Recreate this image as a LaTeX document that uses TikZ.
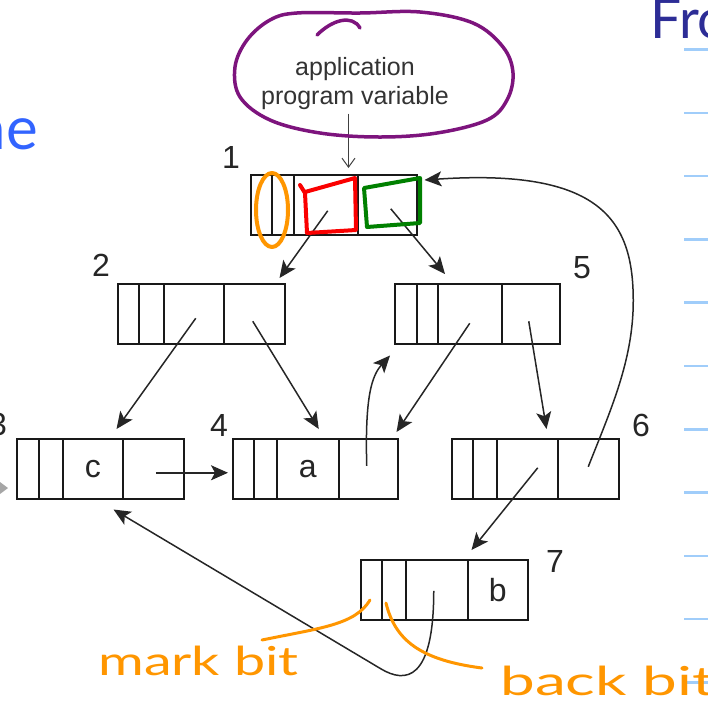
\documentclass[tikz,border=0pt]{standalone}
\usepackage{fontspec}
\setmainfont{Liberation Sans}
\newfontfamily\hand{Lato}
\usetikzlibrary{arrows.meta,calc}
\definecolor{purp}{RGB}{125,20,125}
\definecolor{orng}{RGB}{255,150,0}
\definecolor{redhw}{RGB}{250,0,0}
\definecolor{grn}{RGB}{0,128,0}
\definecolor{bluehw}{RGB}{50,100,255}
\definecolor{navyhw}{RGB}{45,45,150}
\definecolor{rulecol}{RGB}{160,205,250}
\newcommand\rec[9]{%
  \node[cell, minimum width={#3-#2}] (#1a) at (#2,#7) {};
  \node[cell, minimum width={#4-#3}] (#1b) at (#3,#7) {};
  \node[cell, minimum width={#5-#4}] (#1c) at (#4,#7) {#8};
  \node[cell, minimum width={#6-#5}] (#1d) at (#5,#7) {#9};
}
\begin{document}
\begin{tikzpicture}[x=1pt,y=-1pt,
  cell/.style={draw=black!90, line width=1.5pt, minimum height=60pt, inner sep=0pt,
    anchor=north west, text=black!85, font=\fontsize{32}{32}\selectfont},
  ptr/.style={draw=black!85, line width=1.5pt, -{Stealth[length=17pt,width=15pt,inset=4pt]}},
  barb/.style={draw=black!75, line width=1pt, -{Straight Barb[length=9pt,width=13pt]}},
  num/.style={font=\fontsize{32}{32}\selectfont, text=black!85, inner sep=0pt},
  hw/.style={line width=4pt, line cap=round, line join=round},
  hwtext/.style={font=\hand\fontsize{40}{40}\selectfont, inner sep=0pt, anchor=base west},
]
\useasboundingbox (0,0) rectangle (708,702);
\clip (0,0) rectangle (708,702);

% ruled lines at right
\foreach \k in {0,...,10}
  \draw[rulecol, line width=2.5pt] (684,{49.5+63.3*\k}) -- (708,{49.5+63.3*\k});

% records
\rec{n1}{250}{271}{293}{357}{416}{174}{}{}
\rec{n2}{117}{138}{163}{223}{284}{283}{}{}
\rec{n3}{16}{38}{62}{122}{183}{438}{c}{}
\rec{n4}{232}{253}{276}{338}{397}{438}{a}{}
\rec{n5}{394}{416}{437}{501}{559}{283}{}{}
\rec{n6}{451}{472}{496}{557}{618}{438}{}{}
\rec{n7}{360}{381}{405}{467}{527}{559}{}{b}

% record numbers
\node[num] (l1) at (231,157) {1};
\node[num] (l2) at (101,265) {2};
\node[num] (l3) at (-2,424) {3};
\node[num] (l4) at (219,425) {4};
\node[num] (l5) at (582,268) {5};
\node[num] (l6) at (641,425) {6};
\node[num] (l7) at (555,561) {7};

% application program variable
\node[font=\fontsize{25}{29}\selectfont, align=center, text=black!80] (bub) at (355,84)
  {application\\program variable};
\draw[barb] ($(bub.south -| n1c.north east)+(-10,0)$) -- ($(n1c.north east)+(-10,-6)$);

% pointer coordinates
\coordinate (s1) at ($(n1c.center)+(2,6)$);    \coordinate (t1) at ($(n2d.north east)+(-6,-5)$);
\coordinate (s2) at ($(n1d.center)+(3.5,4)$);  \coordinate (t2) at ($(n5c.north west)+(8,-9)$);
\coordinate (s3) at ($(n2c.center)+(2,4.5)$);  \coordinate (t3) at ($(n3c.north east)+(-7,-9)$);
\coordinate (s4) at ($(n2d.center)+(-1.5,7.5)$); \coordinate (t4) at ($(n4c.north)+(11,-9)$);
\coordinate (s5) at ($(n3d.center)+(2.5,4)$);  \coordinate (t5) at ($(n4a.west)+(-4,4)$);
\coordinate (s6) at ($(n4d.center)+(-1.5,-3)$); \coordinate (t6) at ($(n5a.south west)+(-4,11)$);
\coordinate (s7) at ($(n5c.center)+(0,9.5)$);  \coordinate (t7) at ($(n4d.north east)+(-2,-6)$);
\coordinate (s8) at ($(n5d.center)+(-2,7.5)$); \coordinate (t8) at ($(n6c.north east)+(-12,-9)$);
\coordinate (s9) at ($(n6d.center)+(0,-2)$);   \coordinate (t9) at ($(n1d.north east)+(7,6)$);
\coordinate (s10) at ($(n6c.center)+(10.5,-1)$); \coordinate (t10) at ($(n7c.north east)+(3,-9)$);
\coordinate (s11) at ($(n7c.center)+(-3,1)$);  \coordinate (t11) at ($(n3c.south east)+(-10,10)$);

\draw[ptr] (s1) -- (t1);
\draw[ptr] (s2) -- (t2);
\draw[ptr] (s3) -- (t3);
\draw[ptr] (s4) -- (t4);
\draw[ptr] (s5) -- (t5);
\draw[ptr] (s6) .. controls ($(s6)+(-2,-70)$) and ($(t6)+(-18,20)$) .. (t6);
\draw[ptr] (s7) -- (t7);
\draw[ptr] (s8) -- (t8);
\draw[ptr] (s9) .. controls ($(s9)+(22,-56)$) and ($(s9)+(45,-106)$) .. ($(s9)+(45,-166)$)
  .. controls ($(s9)+(45,-246)$) and ($(t9)+(177,-12)$) .. (t9);
\draw[ptr] (s10) -- (t10);
\draw[ptr] (s11) .. controls ($(s11)+(0,90)$) and ($(s11)+(-28,93)$) .. ($(s11)+(-53,78)$) -- (t11);

% grey fragment at left edge
\fill[black!35] (0,482) -- (8,488) -- (0,494) -- cycle;

% handwritten annotations
\draw[purp, line width=3.5pt, line cap=round] plot[smooth cycle, tension=0.6] coordinates {
  (297,13) (360,13) (420,12) (473,23) (503,47) (513,73) (507,100) (487,120)
  (437,133) (380,137) (320,133) (270,120) (240,97) (235,67) (247,40) (270,20)};
\draw[purp, line width=3.5pt, line cap=round] (317,35) .. controls (332,20) and (352,14) .. (360,28);

\draw[hw, orng] (272,210) ellipse [x radius=16, y radius=37];
\draw[hw, redhw] (300,185) -- (305,193) -- (307,233) -- (356,230) -- (355,178) -- (305,192);
\draw[hw, grn] (364,188) -- (420,178) -- (420,223) -- (367,227) -- cycle;

\draw[orng, line width=3pt, line cap=round] (370,600) .. controls (355,625) and (320,628) .. (262,640);
\draw[orng, line width=3pt, line cap=round] (386,603) .. controls (395,640) and (420,660) .. (482,668);
\node[hwtext, text=orng, xscale=1.39] (mark) at (98,675) {mark bit};
\node[hwtext, text=orng, xscale=1.55] (back) at (500,695) {back bit};

\node[font=\hand\fontsize{55}{55}\selectfont, text=navyhw, inner sep=0pt, anchor=base west] (fro) at (650,38) {Fro};
\node[font=\hand\fontsize{60}{60}\selectfont, text=bluehw, inner sep=0pt, anchor=base east] (ne) at (38,149) {ne};
\end{tikzpicture}
\end{document}
